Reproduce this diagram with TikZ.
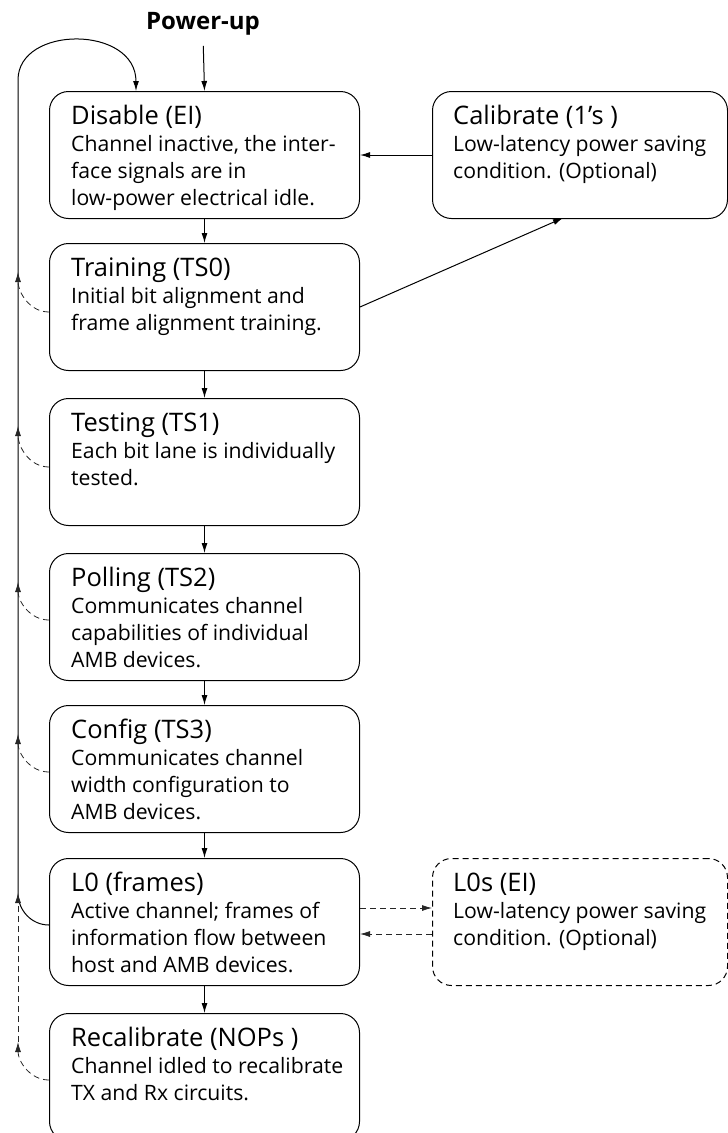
\documentclass[tikz,border=0pt]{standalone}
\usepackage{fontspec}
\setmainfont{Open Sans}
\usetikzlibrary{arrows.meta,calc}
\newcommand{\sttext}[2]{\parbox[t]{320pt}{\raggedright\fontsize{25.5}{28}\selectfont #1\par\fontsize{21.2}{27}\selectfont #2}}
\begin{document}
\begin{tikzpicture}[x=1pt,y=-1pt,
  stbox/.style={draw, rounded corners=19pt, minimum width=310pt, minimum height=127pt, anchor=north west, inner sep=0pt, line width=1pt},
  sidebox/.style={stbox, minimum width=295pt},
  dsidebox/.style={sidebox, dashed, dash pattern=on 6pt off 4pt},
  txt/.style={anchor=base west, inner sep=0pt},
  arr/.style={line width=1pt, -{Latex[length=10pt,width=6pt]}},
  darr/.style={line width=0.8pt, black!85, dash pattern=on 6pt off 4pt, -{Latex[length=10pt,width=6pt]}}
]
\useasboundingbox (0,0) rectangle (728,1133);

% main column
\node[stbox] (b1) at (49,91) {};
\node[stbox] (b2) at (49,243) {};
\node[stbox] (b3) at (49,398) {};
\node[stbox] (b4) at (49,553) {};
\node[stbox] (b5) at (49,705) {};
\node[stbox] (b6) at (49,858) {};
\node[stbox] (b7) at (49,1013) {};
% side boxes
\node[sidebox] (c1) at (432,91) {};
\node[dsidebox] (s1) at (432,858) {};

% texts
\node[txt] (t1) at (71,124) {\sttext{Disable (EI)}{Channel inactive, the inter-\\face signals are in\\low-power electrical idle.}};
\node[txt] (t2) at (71,276) {\sttext{Training (TS0)}{Initial bit alignment and\\frame alignment training.}};
\node[txt] (t3) at (71,431) {\sttext{Testing (TS1)}{Each bit lane is individually\\tested.}};
\node[txt] (t4) at (71,586) {\sttext{Polling (TS2)}{Communicates channel\\capabilities of individual\\AMB devices.}};
\node[txt] (t5) at (71,738) {\sttext{Config (TS3)}{Communicates channel\\width configuration to\\AMB devices.}};
\node[txt] (t6) at (71,891) {\sttext{L0 (frames)}{Active channel; frames of\\information flow between\\host and AMB devices.}};
\node[txt] (t7) at (71,1046) {\sttext{Recalibrate (NOPs )}{Channel idled to recalibrate\\TX and Rx circuits.}};
\node[txt] (t8) at (453,124) {\sttext{Calibrate (1’s )}{Low-latency power saving\\condition. (Optional)}};
\node[txt] (t9) at (453,891) {\sttext{L0s (EI)}{Low-latency power saving\\condition. (Optional)}};

\node[anchor=base, inner sep=0pt, font=\fontsize{24}{28}\bfseries\selectfont] (pu) at (203,29) {Power-up};

% down arrows
\draw[arr, shorten <=11pt] (pu.south) -- (b1.north);
\draw[arr] (b1.south) -- (b2.north);
\draw[arr] (b2.south) -- (b3.north);
\draw[arr] (b3.south) -- (b4.north);
\draw[arr] (b4.south) -- (b5.north);
\draw[arr] (b5.south) -- (b6.north);
\draw[arr] (b6.south) -- (b7.north);

% calibrate connections
\coordinate (ct) at (563,218);
\draw[arr] (c1.west) -- (b1.east);
\draw[arr] (b2.east) -- (ct);

% L0s connections
\draw[darr] ($(b6.north east)+(0,50)$) -- ($(s1.north west)+(0,50)$);
\draw[darr] ($(s1.north west)+(0,76)$) -- ($(b6.north east)+(0,76)$);

% left return loop
\coordinate (lj) at (18,893);
\coordinate (le) at (136,91);
\draw[arr] ($(b6.north west)+(0,67)$) to[out=180,in=-90] (lj) -- (18,80) .. controls (18,25) and (136,25) .. (le);

% dashed feedback
\draw[darr] ($(b2.north west)+(0,69)$) to[out=180,in=-90] (18,272);
\draw[darr] ($(b3.north west)+(0,69)$) to[out=180,in=-90] (18,426);
\draw[darr] ($(b4.north west)+(0,67)$) to[out=180,in=-90] (18,582);
\draw[darr] ($(b5.north west)+(0,67)$) to[out=180,in=-90] (18,734);
\coordinate (rj) at (18,1042);
\draw[darr] ($(b7.north west)+(0,67)$) to[out=180,in=-90] (rj);
\draw[darr] (rj) -- (lj);
\end{tikzpicture}
\end{document}
